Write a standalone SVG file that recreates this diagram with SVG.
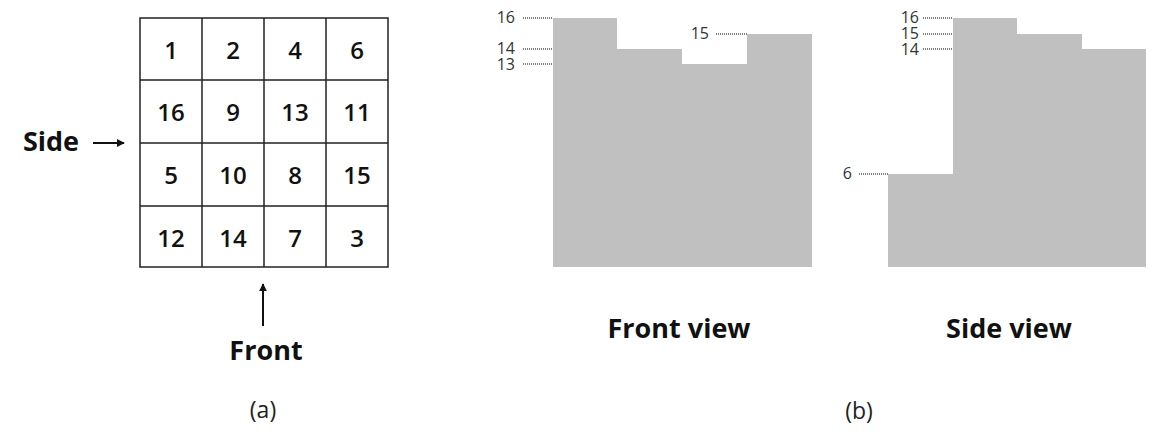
<svg xmlns="http://www.w3.org/2000/svg" width="1166" height="440" viewBox="0 0 1166 440">
<defs>
<style>
.g{fill:none;stroke:#222;stroke-width:1.5}
.n{font-family:"Open Sans","Noto Sans",sans-serif;font-weight:600;font-size:24px;fill:#111;text-anchor:middle}
.t{font-family:"Open Sans","Noto Sans",sans-serif;font-weight:700;font-size:27px;fill:#111;text-anchor:middle}
.c{font-family:"Open Sans","Noto Sans",sans-serif;font-size:23px;fill:#222;text-anchor:middle}
.l{font-family:"Open Sans","Noto Sans",sans-serif;font-size:16px;fill:#333;text-anchor:end}
.d{stroke:#555;stroke-width:1.3;stroke-dasharray:1 1;fill:none}
.v{fill:#c0c0c0}
.a{stroke:#111;stroke-width:2;fill:none}
</style>
<marker id="ah" viewBox="0 0 10 10" refX="9" refY="5" markerWidth="4" markerHeight="4" orient="auto"><path d="M0,0 L10,5 L0,10 z" fill="#111"/></marker>
</defs>
<g id="grid">
<rect class="g" x="140" y="18" width="248" height="249"/>
<path class="g" d="M202,18V267M264,18V267M326,18V267M140,80H388M140,143H388M140,206H388"/>
<g class="n">
<text x="171" y="59">1</text><text x="233" y="59">2</text><text x="295" y="59">4</text><text x="357" y="59">6</text>
<text x="171" y="121">16</text><text x="233" y="121">9</text><text x="295" y="121">13</text><text x="357" y="121">11</text>
<text x="171" y="184">5</text><text x="233" y="184">10</text><text x="295" y="184">8</text><text x="357" y="184">15</text>
<text x="171" y="247">12</text><text x="233" y="247">14</text><text x="295" y="247">7</text><text x="357" y="247">3</text>
</g>
</g>
<g id="connectors">
<line class="a" x1="93" y1="143" x2="124" y2="143" marker-end="url(#ah)"/>
<line class="a" x1="263" y1="326" x2="263" y2="284" marker-end="url(#ah)"/>
</g>
<g id="side-label"><text class="t" x="51" y="151">Side</text></g>
<g id="front-label"><text class="t" x="266" y="360">Front</text></g>
<text class="c" x="263" y="418">(a)</text>
<g id="front-view">
<path class="v" d="M553,18H617V49H682V64H747V34H812V267H553Z"/>
<path class="d" d="M523,18H553M523,49H553M523,64H553M716,34H747"/>
<text class="l" x="515" y="23">16</text>
<text class="l" x="515" y="54">14</text>
<text class="l" x="515" y="70">13</text>
<text class="l" x="709" y="39">15</text>
<text class="t" x="679" y="338">Front view</text>
</g>
<g id="side-view">
<path class="v" d="M953,18H1017V34H1082V49H1146V267H888V174H953Z"/>
<path class="d" d="M923,18H953M923,34H953M923,49H953M859,174H888"/>
<text class="l" x="919" y="23">16</text>
<text class="l" x="919" y="39">15</text>
<text class="l" x="919" y="55">14</text>
<text class="l" x="852" y="179">6</text>
<text class="t" x="1009" y="338">Side view</text>
</g>
<text class="c" x="859" y="419">(b)</text>
</svg>
